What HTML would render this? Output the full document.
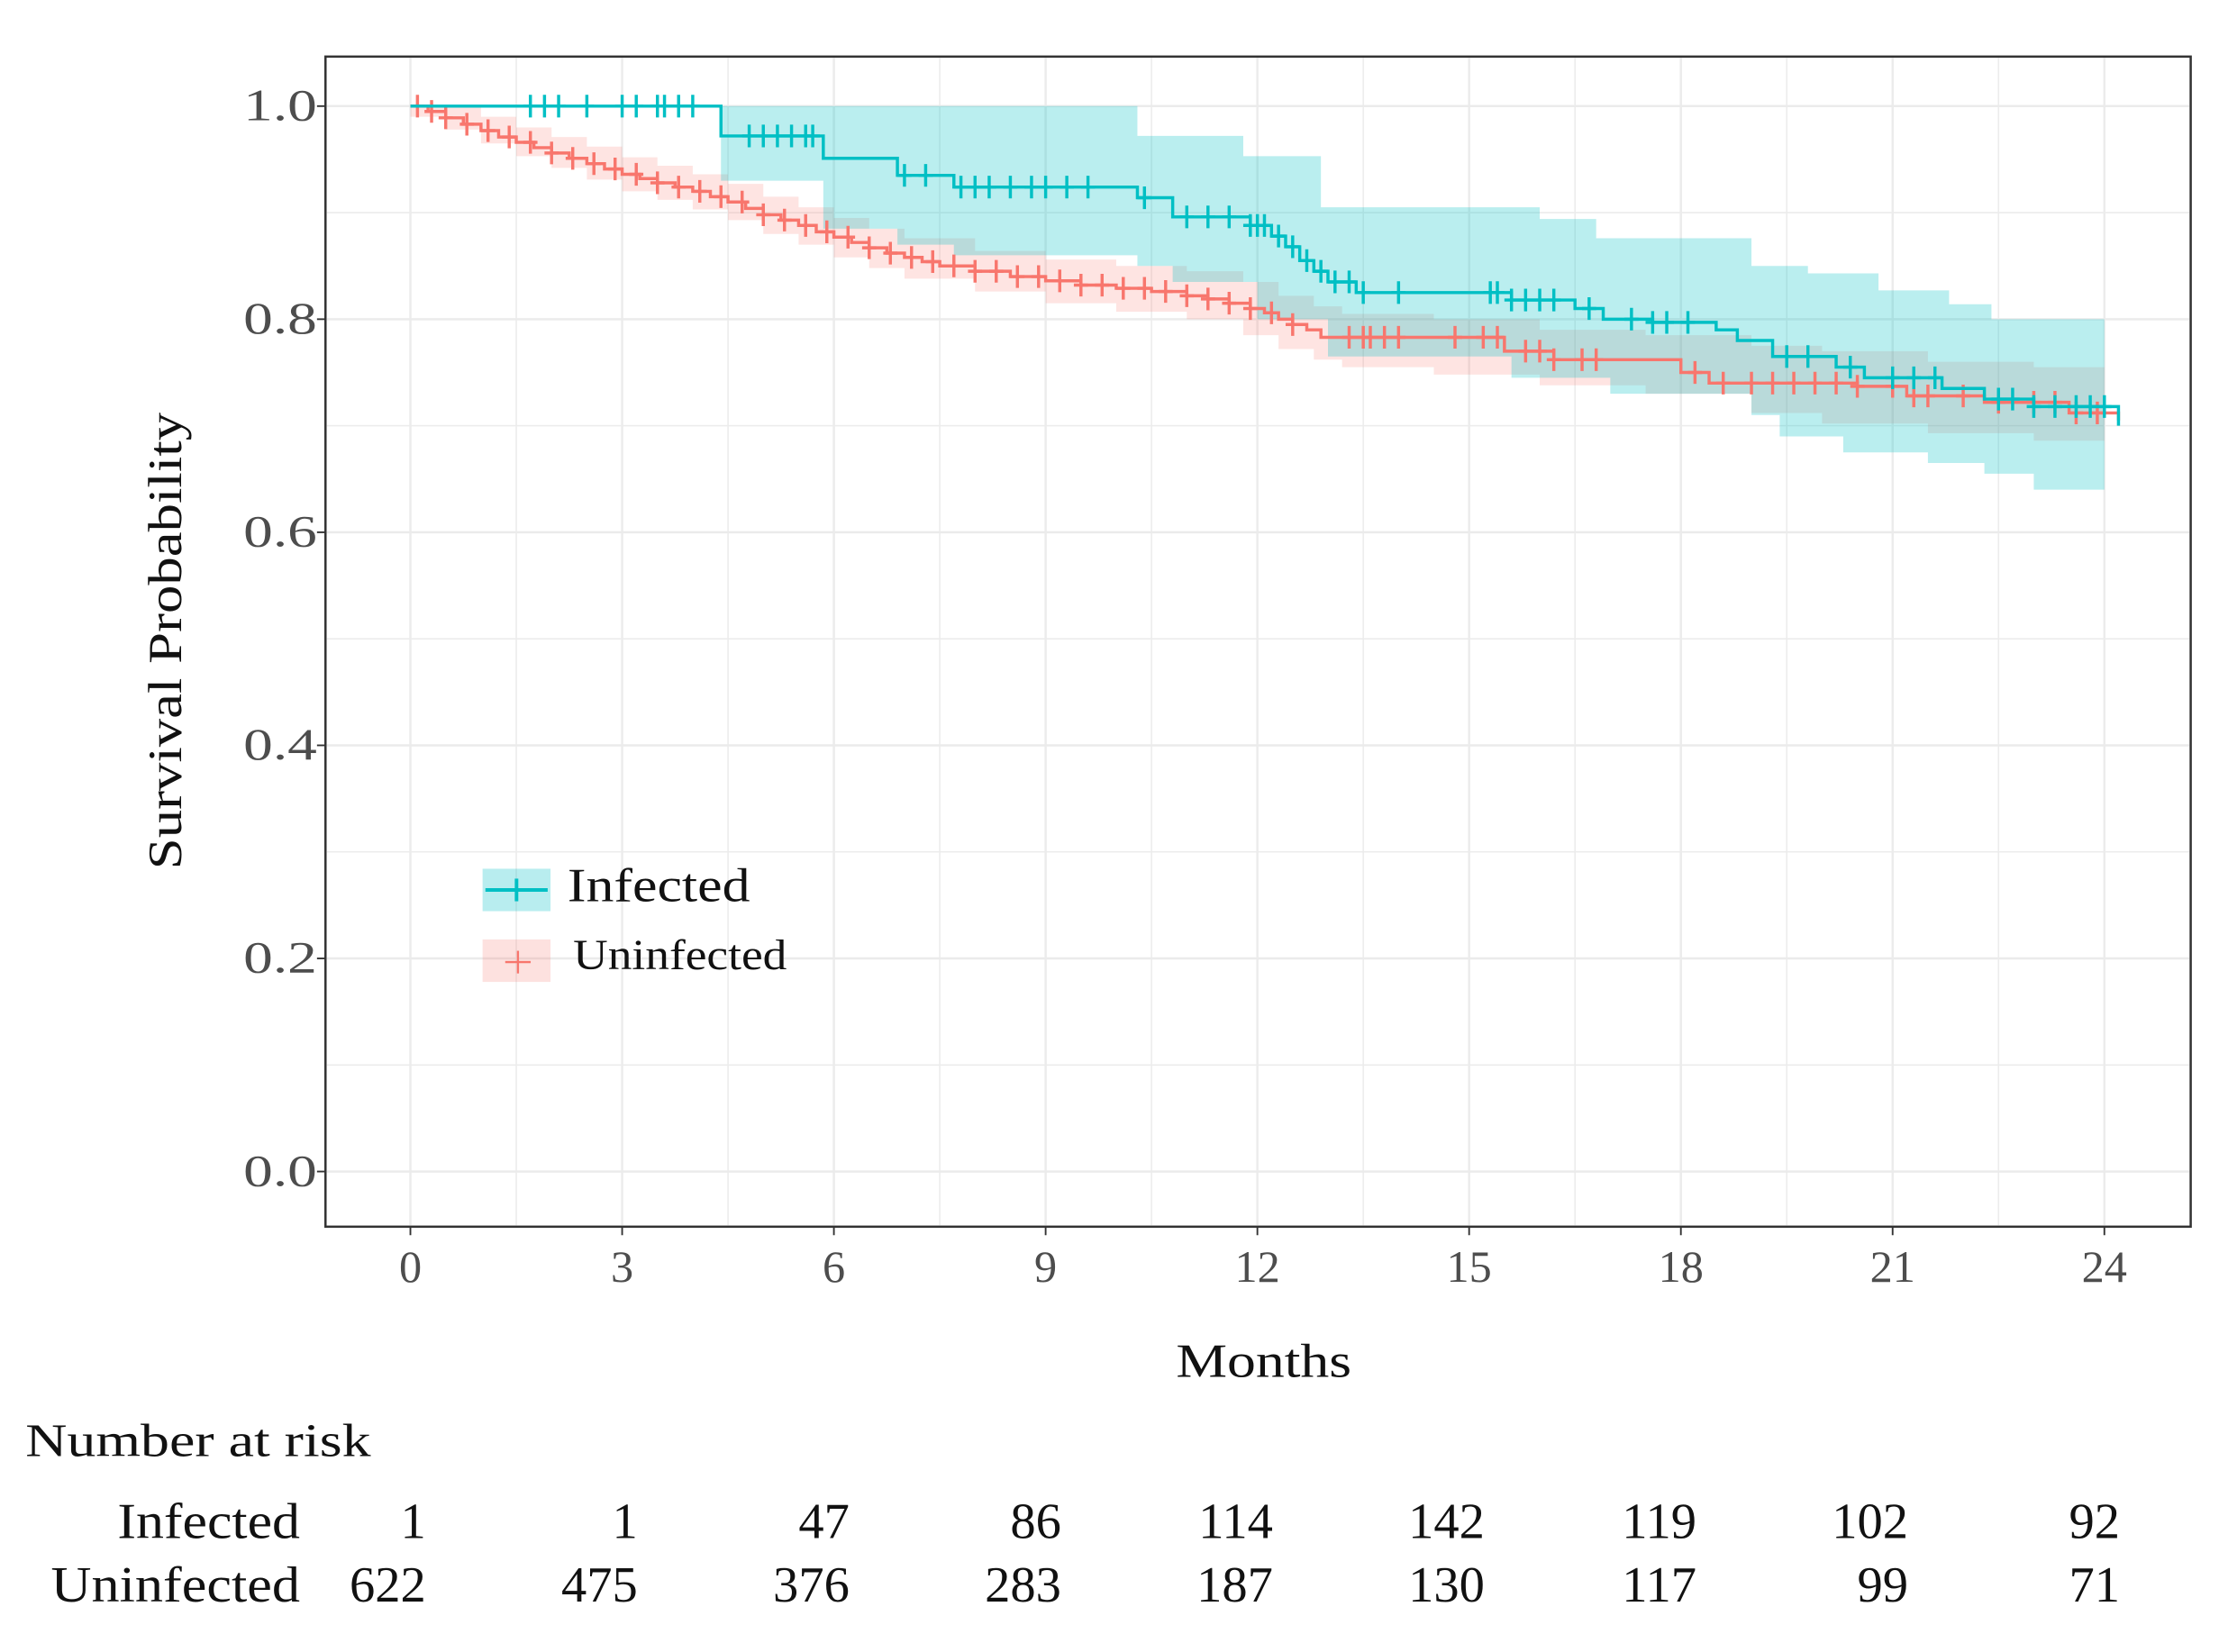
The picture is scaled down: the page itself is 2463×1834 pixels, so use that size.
<!DOCTYPE html>
<html><head><meta charset="utf-8"><style>
html,body{margin:0;padding:0;background:#fff}
svg{display:block;font-family:"Liberation Serif",serif}
</style></head><body>
<svg id="chart" width="2463" height="1834" viewBox="0 0 1568 1167.6" preserveAspectRatio="none" xmlns="http://www.w3.org/2000/svg">
<g id="grid"></g>
<g id="bands"></g>
<g id="lines"></g>
<rect x="230" y="40" width="1318" height="827" fill="none" stroke="#333" stroke-width="1.6"/>
<g id="axes"></g>
<text transform="translate(128,453) rotate(-90)" text-anchor="middle" font-size="34" fill="#111" textLength="323" lengthAdjust="spacingAndGlyphs">Survival Probability</text>
<text x="893" y="973" text-anchor="middle" font-size="34" fill="#111" textLength="124" lengthAdjust="spacingAndGlyphs">Months</text>
<g>
 <rect x="341" y="614" width="48" height="30" fill="#00bfc4" fill-opacity="0.28"/>
 <line x1="343" y1="629" x2="387" y2="629" stroke="#00bfc4" stroke-width="2.5"/><line x1="365" y1="621" x2="365" y2="637" stroke="#00bfc4" stroke-width="2.5"/>
 <text x="401" y="637" font-size="34" fill="#111" textLength="129" lengthAdjust="spacingAndGlyphs">Infected</text>
 <rect x="341" y="664" width="48" height="30" fill="#f8766d" fill-opacity="0.22"/>
 <line x1="357" y1="680" x2="375" y2="680" stroke="#f8766d" stroke-width="1.5"/><line x1="366" y1="672" x2="366" y2="688" stroke="#f8766d" stroke-width="1.5"/>
 <text x="405" y="685" font-size="30" fill="#111" textLength="151" lengthAdjust="spacingAndGlyphs">Uninfected</text>
</g>
<g id="risk">
 <text x="18" y="1029" font-size="33" fill="#111" textLength="244" lengthAdjust="spacingAndGlyphs">Number at risk</text>
 <text x="212" y="1087" text-anchor="end" font-size="36" fill="#111" textLength="129" lengthAdjust="spacingAndGlyphs">Infected</text>
 <text x="212" y="1132" text-anchor="end" font-size="36" fill="#111" textLength="176" lengthAdjust="spacingAndGlyphs">Uninfected</text>
</g>
</svg>
<script>
const xTicks=[0,3,6,9,12,15,18,21,24];
const yTicks=[0,0.2,0.4,0.6,0.8,1.0];
const yTickLabels=["0.0","0.2","0.4","0.6","0.8","1.0"];
const riskInfected=[1,1,47,86,114,142,119,102,92];
const riskUninfected=[622,475,376,283,187,130,117,99,71];

const infT=[0,4.4,5.85,6.9,7.7,10.3,10.8,11.9,12.2,12.4,12.6,12.8,13.0,13.4,15.6,16.5,16.9,17.6,18.5,18.8,19.3,20.2,20.6,21.7,22.3,23.0,24.2];
const infS=[1.0,0.972,0.951,0.935,0.924,0.914,0.896,0.888,0.878,0.868,0.855,0.845,0.835,0.825,0.818,0.81,0.80,0.797,0.79,0.78,0.765,0.755,0.745,0.735,0.725,0.718,0.70];
const infUpT=[4.4,10.3,11.8,12.9,16.0,16.8,19.0,19.8,20.8,21.8,22.4,24.0];
const infUp=[1.0,0.972,0.953,0.905,0.894,0.876,0.85,0.843,0.827,0.814,0.80,0.80];
const infLoT=[4.4,5.85,6.9,7.7,10.3,10.8,12.0,13.0,15.6,17.0,19.0,19.4,20.3,21.5,22.3,23.0,24.0];
const infLo=[0.93,0.885,0.87,0.86,0.85,0.835,0.80,0.765,0.745,0.73,0.71,0.69,0.675,0.665,0.655,0.64,0.64];

const unT=[0,0.25,0.5,0.75,1.0,1.25,1.5,1.75,2.0,2.25,2.5,2.75,3.0,3.25,3.5,3.75,4.0,4.25,4.5,4.75,5.0,5.25,5.5,5.75,6.0,6.25,6.5,6.75,7.0,7.25,7.5,8.0,8.5,9.0,9.5,10.0,10.5,11.0,11.3,11.6,11.9,12.1,12.3,12.5,12.7,12.9,15.5,16.2,18.0,18.4,20.5,21.2,22.3,23.5,24.2];
const unS=[1.0,0.995,0.989,0.983,0.977,0.971,0.966,0.961,0.956,0.951,0.946,0.941,0.936,0.932,0.928,0.924,0.92,0.915,0.91,0.904,0.898,0.893,0.888,0.882,0.877,0.872,0.867,0.862,0.858,0.854,0.85,0.845,0.84,0.836,0.832,0.829,0.826,0.822,0.819,0.815,0.81,0.806,0.8,0.795,0.79,0.783,0.77,0.762,0.75,0.74,0.737,0.728,0.722,0.712,0.705];
const unLoT=[0,0.5,1,1.5,2,2.5,3,3.5,4,4.5,5,5.5,6,6.5,7,8,9,10,11,11.8,12.3,12.8,13.2,14.5,16,17.5,19,20,21.5,23,24];
const unLo=[0.99,0.978,0.965,0.953,0.942,0.931,0.92,0.912,0.903,0.893,0.88,0.87,0.858,0.848,0.838,0.826,0.815,0.807,0.8,0.785,0.772,0.762,0.755,0.748,0.738,0.73,0.712,0.702,0.693,0.686,0.68];
const unUpT=[0,0.5,1,1.5,2,2.5,3,3.5,4,4.5,5,5.5,6,6.5,7,8,9,10,11,11.8,12.3,12.8,13.2,14.5,16,17.5,19,20,21.5,23,24];
const unUp=[1.0,1.0,0.99,0.98,0.971,0.962,0.952,0.944,0.936,0.927,0.915,0.905,0.895,0.885,0.876,0.864,0.856,0.85,0.845,0.835,0.822,0.812,0.805,0.8,0.79,0.785,0.775,0.77,0.76,0.755,0.75];

const infCens=[1.7,1.9,2.1,2.5,3.0,3.2,3.5,3.6,3.8,4.0,4.8,5.0,5.2,5.4,5.6,5.7,7.0,7.3,7.8,8.0,8.2,8.5,8.8,9.0,9.3,9.6,10.4,11.0,11.3,11.6,11.9,12.0,12.1,12.3,12.5,12.7,12.9,13.1,13.3,13.5,14.0,15.3,15.4,15.6,15.8,16.0,16.2,16.7,17.3,17.6,17.8,18.1,19.5,19.8,20.4,21.0,21.3,21.6,22.5,22.7,23.0,23.3,23.6,23.8,24.0];
const unCens=[0.1,0.3,0.5,0.8,1.1,1.4,1.7,2.0,2.3,2.6,2.9,3.2,3.5,3.8,4.1,4.4,4.7,5.0,5.3,5.6,5.9,6.2,6.5,6.8,7.1,7.4,7.7,8.0,8.3,8.6,8.9,9.2,9.5,9.8,10.1,10.4,10.7,11.0,11.3,11.6,11.9,12.2,12.5,13.3,13.5,13.6,13.8,14.0,14.8,15.2,15.4,15.8,16.0,16.2,16.6,16.8,18.2,18.6,19.0,19.3,19.6,19.9,20.2,20.5,21.0,21.3,21.5,22.0,22.5,23.0,23.3,23.6,23.9];

const X0=290,X1=1487,Y0=828,Y1=75;
const xs=t=>X0+(X1-X0)*t/24;
const ys=p=>Y0-(Y0-Y1)*p;
const NS="http://www.w3.org/2000/svg";
function mk(tag,attrs,parent){const e=document.createElementNS(NS,tag);for(const k in attrs)e.setAttribute(k,attrs[k]);parent.appendChild(e);return e;}
const grid=document.getElementById('grid'),bands=document.getElementById('bands'),lines=document.getElementById('lines'),axes=document.getElementById('axes'),risk=document.getElementById('risk');

for(let m=0;m<=25.5;m+=1.5){const x=xs(m);if(x>1547)continue;const g=mk('line',{x1:x,x2:x,y1:41,y2:866,stroke:'#ececec','stroke-width':m%3===0?1.6:1},grid);}
for(let p=-0.05;p<=1.1;p+=0.1){const y=ys(p+0.05);if(y<41||y>866)continue;const g=mk('line',{x1:231,x2:1547,y1:y,y2:y,stroke:'#ececec','stroke-width':1},grid);}
yTicks.forEach((v,i)=>{const y=ys(v);
 const g=mk('line',{x1:231,x2:1547,y1:y,y2:y,stroke:'#ebebeb','stroke-width':1.6},grid);
 const t=mk('line',{x1:224,x2:230,y1:y,y2:y,stroke:'#333','stroke-width':1.2},axes);
 const l=mk('text',{x:224,y:y+10,'text-anchor':'end','font-size':32,fill:'#4d4d4d',textLength:52,lengthAdjust:'spacingAndGlyphs'},axes);l.textContent=yTickLabels[i];});
xTicks.forEach((v,i)=>{const x=xs(v);
 const t=mk('line',{x1:x,x2:x,y1:867,y2:873,stroke:'#333','stroke-width':1.2},axes);
 const l=mk('text',{x:x,y:906,'text-anchor':'middle','font-size':32,fill:'#4d4d4d'},axes);l.textContent=v;
 const a=mk('text',{x:x+11,y:1087,'text-anchor':'end','font-size':36,fill:'#111'},risk);a.textContent=riskInfected[i];
 const b=mk('text',{x:x+11,y:1132,'text-anchor':'end','font-size':36,fill:'#111'},risk);b.textContent=riskUninfected[i];});

function stepPts(T,S,end){let d='';for(let i=0;i<T.length;i++){const x=xs(T[i]),y=ys(S[i]);if(i===0)d+=`M${x},${y}`;else d+=`H${x}V${y}`;}d+=`H${xs(end)}`;return d;}
function stepArr(T,S,end){const p=[];for(let i=0;i<T.length;i++){const x=xs(T[i]),y=ys(S[i]);if(i>0)p.push([x,ys(S[i-1])]);p.push([x,y]);}p.push([xs(end),ys(S[S.length-1])]);return p;}
function band(UT,U,LT,L,end,color,op,name){const up=stepArr(UT,U,end),lo=stepArr(LT,L,end).reverse();const pts=up.concat(lo).map(p=>p.join(',')).join(' ');const e=mk('polygon',{points:pts,fill:color,'fill-opacity':op},bands);}
band(unUpT,unUp,unLoT,unLo,24,'#f8766d',0.2,'uninfected-ci-band');
band(infUpT,infUp,infLoT,infLo,24,'#00bfc4',0.27,'infected-ci-band');

function sAt(T,S,t){let s=S[0];for(let i=0;i<T.length;i++){if(T[i]<=t)s=S[i];}return s;}
function curve(T,S,cens,color,w,name,cname){const p=mk('path',{d:stepPts(T,S,T[T.length-1]),fill:'none',stroke:color,'stroke-width':w},lines);
 cens.forEach(t=>{const x=xs(t),y=ys(sAt(T,S,t));const c=mk('path',{d:`M${x},${y-8}V${y+8}M${x-5},${y}H${x+5}`,stroke:color,'stroke-width':w,fill:'none'},lines);});}
curve(unT,unS,unCens,'#f8766d',2.2,'uninfected-curve','uninfected-censor-mark');
curve(infT,infS,infCens,'#00bfc4',2.2,'infected-curve','infected-censor-mark');
</script>
</body></html>
